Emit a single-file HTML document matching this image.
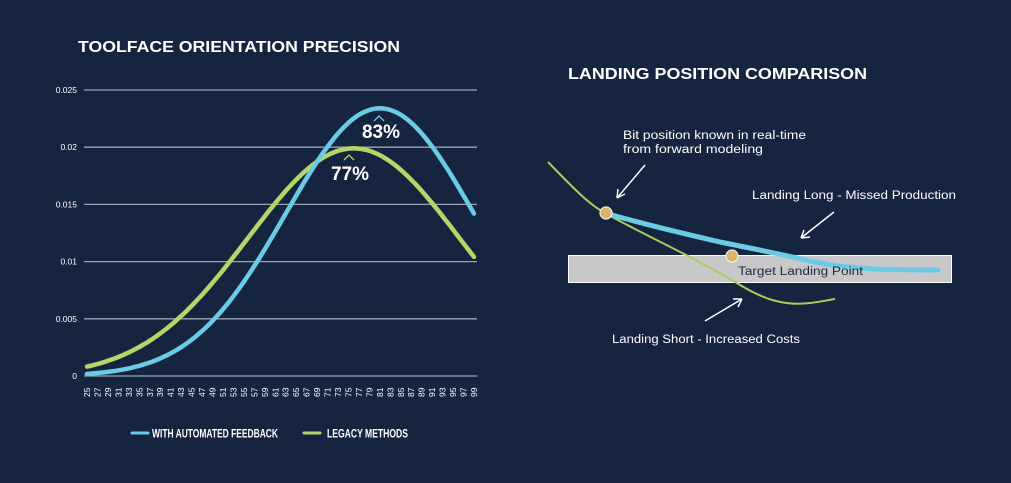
<!DOCTYPE html>
<html><head><meta charset="utf-8"><style>
html,body{margin:0;padding:0;background:#15243f;}
svg{display:block;font-family:"Liberation Sans",sans-serif;}
</style></head><body>
<svg id="s" width="1011" height="483" viewBox="0 0 1011 483" xmlns="http://www.w3.org/2000/svg">
<rect width="1011" height="483" fill="#15243f"/>
<text x="78" y="52" fill="#fff" font-size="15.5" font-weight="bold" textLength="322" lengthAdjust="spacingAndGlyphs">TOOLFACE ORIENTATION PRECISION</text>
<text x="568" y="79" fill="#fff" font-size="15.5" font-weight="bold" textLength="299" lengthAdjust="spacingAndGlyphs">LANDING POSITION COMPARISON</text>
<g id="grid" stroke="#9aa3b3" stroke-width="1.3"></g>
<g id="ylab" fill="#fff" font-size="8.5" text-anchor="end"></g>
<g id="xlab" fill="#fff" font-size="8.5"></g>
<path id="g" fill="none" stroke="#b5d56a" stroke-width="4.5" stroke-linecap="round"/>
<path id="b" fill="none" stroke="#6ccbe4" stroke-width="4.5" stroke-linecap="round"/>
<text x="381" y="138" fill="#fff" font-size="19" font-weight="bold" text-anchor="middle">83%</text>
<path d="M374,121 L379,116 L384,121" fill="none" stroke="#6ccbe4" stroke-width="1.3"/>
<text x="350" y="180" fill="#fff" font-size="19" font-weight="bold" text-anchor="middle">77%</text>
<path d="M344,160 L349,155 L354,160" fill="none" stroke="#b5d56a" stroke-width="1.3"/>
<line x1="132" y1="433" x2="148" y2="433" stroke="#6ccbe4" stroke-width="3" stroke-linecap="round"/>
<text x="152" y="437.5" fill="#fff" font-size="12" font-weight="bold" textLength="126" lengthAdjust="spacingAndGlyphs">WITH AUTOMATED FEEDBACK</text>
<line x1="304" y1="433" x2="320" y2="433" stroke="#b5d56a" stroke-width="3" stroke-linecap="round"/>
<text x="327" y="437.5" fill="#fff" font-size="12" font-weight="bold" textLength="81" lengthAdjust="spacingAndGlyphs">LEGACY METHODS</text>

<rect x="568.5" y="255.5" width="383" height="27" fill="#c8c8ca" stroke="#fff" stroke-width="1"/>
<path d="M548,162 C575,190 590,205 605,213 C640,233 700,260 740,285 C765,300 785,306 810,303 C820,302 828,300 835,299" fill="none" stroke="#a8cc5c" stroke-width="2"/>
<path d="M605,213 C650,226 690,235 720,242 C760,250 790,256 810,261 C850,270 900,270 938,270" fill="none" stroke="#6ccbe4" stroke-width="5" stroke-linecap="round"/>
<circle cx="606" cy="213" r="6" fill="#d9b46a" stroke="#f2efe6" stroke-width="1.2"/>
<circle cx="732" cy="256" r="6" fill="#d9b46a" stroke="#f2efe6" stroke-width="1.2"/>
<text x="738" y="275" fill="#1f2a3f" font-size="11.5" textLength="125" lengthAdjust="spacingAndGlyphs">Target Landing Point</text>
<g fill="#fff" font-size="11.5">
<text x="623" y="139" textLength="183" lengthAdjust="spacingAndGlyphs">Bit position known in real-time</text>
<text x="623" y="153" textLength="140" lengthAdjust="spacingAndGlyphs">from forward modeling</text>
<text x="752" y="199" textLength="204" lengthAdjust="spacingAndGlyphs">Landing Long - Missed Production</text>
<text x="612" y="343" textLength="188" lengthAdjust="spacingAndGlyphs">Landing Short - Increased Costs</text>
</g>
<g stroke="#fff" stroke-width="1.5" fill="none">
<path d="M645,165 L617,198 M617,198 L618,189 M617,198 L625,194"/>
<path d="M834,212 L801,238 M801,238 L804,230 M801,238 L810,237"/>
<path d="M705,321 L742,299 M742,299 L733,299 M742,299 L738,307"/>
</g>
</svg>
<script>
(function(){
var ns="http://www.w3.org/2000/svg";
function el(p,t,a,txt){var e=document.createElementNS(ns,t);for(var k in a)e.setAttribute(k,a[k]);if(txt!=null)e.textContent=txt;document.getElementById(p).appendChild(e);return e;}
var y0=376,y1=90;
function Y(v){return y0-(v/0.025)*(y0-y1);}
function X(n){return 87+(n-25)*(387/74);}
var labs=["0","0.005","0.01","0.015","0.02","0.025"];
for(var i=0;i<=5;i++){var y=Y(i*0.005);el("grid","line",{x1:84,x2:477,y1:y,y2:y});el("ylab","text",{x:77,y:y+3},labs[i]);}
for(var n=25;n<=99;n+=2){var x=X(n)+3;el("xlab","text",{transform:"translate("+x+",397) rotate(-90)"},String(n));}
function path(id,m,s,p){var d="";for(var n=25;n<=99;n+=0.5){var v=p*Math.exp(-(n-m)*(n-m)/(2*s*s));d+=(d?"L":"M")+X(n).toFixed(1)+","+Y(v).toFixed(1);}document.getElementById(id).setAttribute("d",d);}
path("g",76,20.2,0.0199);
path("b",81,18,0.0234);
})();
</script>
</body></html>
